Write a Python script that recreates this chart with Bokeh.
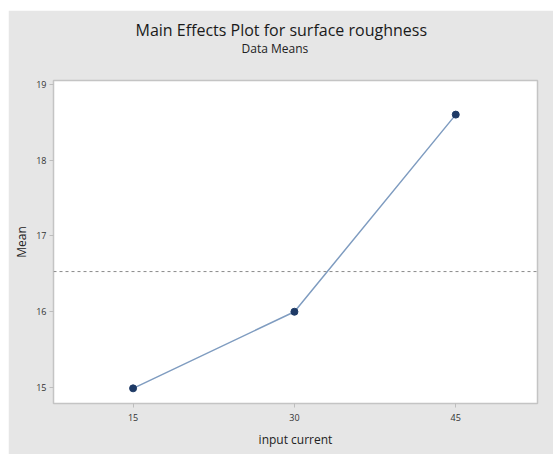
from bokeh.plotting import figure
from bokeh.models import FixedTicker, Span, Title, Range1d, Spacer
from bokeh.layouts import column, row
from bokeh.embed import file_html
from bokeh.resources import INLINE

currents = [15, 30, 45]
means = [14.99, 16.0, 18.6]
x_ticks = [15, 30, 45]
y_ticks = [15, 16, 17, 18, 19]
title_text = "Main Effects Plot for surface roughness"
subtitle_text = "Data Means"
x_label = "input current"
y_label = "Mean"

grand_mean = sum(means) / len(means)

BG = "#e6e6e6"
FONT = "Open Sans"

p = figure(width=545, height=444, output_backend="svg", toolbar_location=None,
           x_range=Range1d(7.6, 52.6), y_range=Range1d(14.79, 19.05),
           min_border_left=45, min_border_right=16, min_border_top=70, min_border_bottom=51,
           background_fill_color="white", border_fill_color=BG)
p.title = None

gap = Title(text=" ", text_font=FONT, text_font_size="1px", standoff=21)
sub = Title(text=subtitle_text, align="left", offset=188, vertical_align="bottom",
            text_font=FONT, text_font_size="12px", text_font_style="normal",
            text_color="#222222", standoff=0)
main = Title(text=title_text, align="left", offset=82, vertical_align="bottom",
             text_font=FONT, text_font_size="16px", text_font_style="normal",
             text_color="#1a1a1a", standoff=-6)
p.add_layout(gap, "above")
p.add_layout(sub, "above")
p.add_layout(main, "above")

p.xgrid.visible = False
p.ygrid.visible = False
p.outline_line_color = "#c4c4c4"
p.outline_line_width = 1.5

for ax in (p.xaxis[0], p.yaxis[0]):
    ax.axis_line_color = "#c4c4c4"
    ax.major_tick_line_color = "#bdbdbd"
    ax.major_tick_in = 0
    ax.major_tick_out = 4
    ax.minor_tick_line_color = None
    ax.major_label_text_font = FONT
    ax.major_label_text_font_size = "9px"
    ax.major_label_text_color = "#333333"
    ax.axis_label_text_font = FONT
    ax.axis_label_text_font_size = "12px"
    ax.axis_label_text_font_style = "normal"
    ax.axis_label_text_color = "#222222"

p.xaxis.ticker = FixedTicker(ticks=x_ticks)
p.yaxis.ticker = FixedTicker(ticks=y_ticks)
p.xaxis.axis_label = x_label
p.yaxis.axis_label = y_label
p.xaxis.major_label_standoff = 6
p.yaxis.major_label_standoff = 3
p.xaxis.axis_label_standoff = 7
p.yaxis.axis_label_standoff = 3

p.add_layout(Span(location=grand_mean, dimension="width", line_color="#8a8a8a",
                  line_dash="3 3", line_width=1))

p.line(currents, means, line_color="#7f9cc0", line_width=1.5)
p.scatter(currents, means, size=7, fill_color="#1e3a66", line_color="#1e3a66")

layout = column(Spacer(height=10), row(Spacer(width=8), p))

open("out.html", "w").write(file_html(layout, INLINE))
